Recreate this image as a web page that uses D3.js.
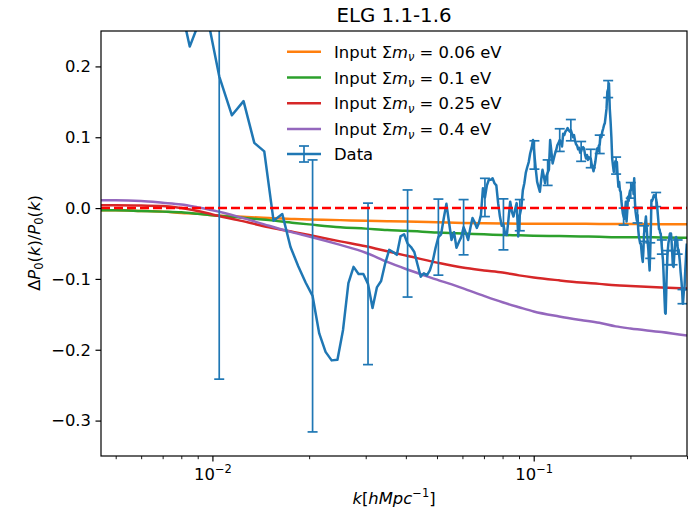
<!DOCTYPE html>
<html><head><meta charset="utf-8">
<script src="https://cdn.jsdelivr.net/npm/d3@7"></script>
<style>body{margin:0;background:#fff} text{font-family:"DejaVu Sans",sans-serif}</style>
</head><body><svg id="c" width="697" height="515"></svg>
<script>
// ---- data ----
const kStart = 0.0045, kStep = 0.001;   // k bins of the measured spectrum
const dataValues = [
 0.50, 0.45, 0.42, 0.34, 0.228, 0.285,
 0.186, 0.131, 0.151, 0.092, 0.080, -0.018, -0.0085, -0.055, -0.082, -0.105,
 -0.124, -0.177, -0.203, -0.215, -0.214, -0.172, -0.106, -0.083, -0.093, -0.093,
 -0.107, -0.141, -0.112, -0.103, -0.078, -0.059, -0.062, -0.066, -0.040, -0.037,
 -0.050, -0.055, -0.062, -0.080, -0.097, -0.092, -0.095, -0.088, -0.075, -0.056,
 -0.041, -0.037, -0.014, 0.006, -0.020, -0.045, -0.034, -0.056, -0.048, -0.041,
 -0.027, -0.035, -0.045, -0.028, -0.014, -0.020, -0.028, -0.021, -0.010, 0.028,
 0.015, 0.032, 0.040, 0.040, 0.042, 0.035, 0.032, 0.007, -0.012, -0.025,
 -0.023, -0.037, -0.038, -0.015, 0.009, -0.005, -0.012, -0.002, 0.007, -0.040,
 -0.010, 0.000, 0.025, 0.035, 0.050, 0.058, 0.065, 0.077, 0.085, 0.096,
 0.075, 0.055, 0.037, 0.030, 0.023, 0.040, 0.054, 0.045, 0.035, 0.045,
 0.050, 0.054, 0.096, 0.080, 0.063, 0.070, 0.077, 0.082, 0.089, 0.092,
 0.096, 0.092, 0.087, 0.105, 0.103, 0.108, 0.110, 0.113, 0.110, 0.108,
 0.110, 0.105, 0.100, 0.103, 0.095, 0.090, 0.088, 0.083, 0.085, 0.078,
 0.080, 0.085, 0.086, 0.084, 0.075, 0.070, 0.075, 0.068, 0.072, 0.070,
 0.070, 0.062, 0.058, 0.052, 0.058, 0.065, 0.075, 0.084, 0.080, 0.088,
 0.090, 0.103, 0.100, 0.108, 0.112, 0.117, 0.120, 0.130, 0.140, 0.164,
 0.168, 0.176, 0.140, 0.122, 0.100, 0.070, 0.060, 0.051, 0.058, 0.066,
 0.060, 0.065, 0.045, 0.030, 0.037, 0.025, 0.023, 0.010, 0.000, -0.008,
 -0.012, -0.015, -0.005, 0.009, -0.019, -0.005, 0.016, 0.010, 0.020, 0.025,
 0.025, 0.030, 0.032, 0.035, 0.020, 0.042, 0.010, -0.005, -0.012, -0.018,
 -0.010, -0.030, -0.040, -0.045, -0.050, -0.050, -0.060, -0.070, -0.076, -0.060,
 -0.036, -0.030, -0.020, -0.012, -0.025, -0.038, -0.050, -0.060, -0.075, -0.088,
 -0.060, -0.030, 0.011, 0.010, 0.012, 0.015, 0.018, 0.016, 0.018, 0.018,
 0.012, 0.008, 0.000, -0.010, -0.020, -0.030, -0.030, -0.035, -0.036, -0.045,
 -0.055, -0.065, -0.073, -0.090, -0.110, -0.130, -0.148, -0.149, -0.120, -0.090,
 -0.070, -0.059, -0.050, -0.045, -0.040, -0.036, -0.036, -0.036, -0.045, -0.060,
 -0.070, -0.082, -0.083, -0.070, -0.060, -0.050, -0.042, -0.041, -0.045, -0.050,
 -0.055, -0.058, -0.059, -0.065, -0.072, -0.080, -0.090, -0.097, -0.105, -0.115,
 -0.125, -0.135, -0.125, -0.115, -0.116, -0.100, -0.085, -0.073, -0.060, -0.050
];
// error bars drawn on every 10th bin, k = 0.0105, 0.0205, ...
const errK = [0.0105,0.0205,0.0305,0.0405,0.0505,0.0605,0.0705,0.0805,0.0905,0.1005,
  0.1105,0.1205,0.1305,0.1405,0.1505,0.1605,0.1705,0.1805,0.1905,0.2005,
  0.2105,0.2205,0.2305,0.2405,0.2505,0.2605,0.2705,0.2805,0.2905];
const errValues = [0.4275,0.192,0.114,0.0756,0.0537,0.039,0.027,0.036,0.022,0.020,
  0.018,0.016,0.015,0.014,0.013,0.013,0.012,0.012,0.012,0.011,
  0.011,0.011,0.011,0.010,0.010,0.010,0.010,0.010,0.010];

const theoryK = [0.0045,0.005,0.006,0.007,0.008,0.009,0.01,0.012,0.015,0.018,0.02,0.025,0.03,0.035,0.04,0.05,0.06,0.07,0.08,0.09,0.1,0.12,0.14,0.16,0.18,0.2,0.25,0.3];
const mnu006 = [-0.003,-0.003,-0.004,-0.005,-0.007,-0.008,-0.010,-0.012,-0.014,-0.0155,-0.016,-0.017,-0.018,-0.0185,-0.019,-0.020,-0.021,-0.0215,-0.0218,-0.022,-0.022,-0.0222,-0.0222,-0.0224,-0.0225,-0.0225,-0.0228,-0.023];
const mnu01  = [-0.003,-0.003,-0.004,-0.005,-0.006,-0.008,-0.010,-0.013,-0.017,-0.021,-0.023,-0.027,-0.029,-0.031,-0.032,-0.0345,-0.036,-0.037,-0.038,-0.0385,-0.039,-0.0395,-0.040,-0.0405,-0.041,-0.041,-0.0415,-0.042];
const mnu025 = [0.004,0.004,0.0035,0.003,0.000,-0.004,-0.009,-0.017,-0.027,-0.034,-0.038,-0.047,-0.054,-0.061,-0.067,-0.077,-0.084,-0.088,-0.091,-0.095,-0.098,-0.102,-0.105,-0.107,-0.109,-0.110,-0.112,-0.1135];
const mnu04  = [0.011,0.011,0.010,0.0075,0.005,0.001,-0.003,-0.012,-0.025,-0.035,-0.040,-0.052,-0.063,-0.076,-0.086,-0.101,-0.113,-0.124,-0.133,-0.140,-0.146,-0.153,-0.158,-0.162,-0.167,-0.170,-0.175,-0.180];

const seriesNames = ["0.06","0.1","0.25","0.4"];
const seriesColors = ["#ff7f0e","#2ca02c","#d62728","#9467bd"];
const yTicks = [-0.3,-0.2,-0.1,0.0,0.1,0.2];
const xMajorTicks = [0.01, 0.1];
const xMajorExp = ["\u22122","\u22121"];
const xMinorTicks = [0.005,0.006,0.007,0.008,0.009,0.02,0.03,0.04,0.05,0.06,0.07,0.08,0.09,0.2,0.3];

// ---- layout ----
const L = 101, R = 687, T = 31, B = 456;
const svg = d3.select("#c");
const x = d3.scaleLog().domain([0.0045, 0.3]).range([L, R]);
const y = d3.scaleLinear().domain([-0.35, 0.25]).range([B, T]);
const fs = 16.4;
const lw = 2.5;

svg.append("defs").append("clipPath").attr("id","clip")
  .append("rect").attr("x",L).attr("y",T).attr("width",R-L).attr("height",B-T);
const plot = svg.append("g").attr("clip-path","url(#clip)");

const line = d3.line().x(d=>x(d[0])).y(d=>y(d[1]));
const theories = [mnu006, mnu01, mnu025, mnu04];
theories.forEach((vals,j)=>{
  plot.append("path").datum(theoryK.map((k,i)=>[k,vals[i]]))
    .attr("d", line.curve(d3.curveMonotoneX)).attr("fill","none")
    .attr("stroke",seriesColors[j]).attr("stroke-width",lw);
});

const dataPts = dataValues.map((v,i)=>[kStart + kStep*i, v]);
const blue = "#1f77b4";
plot.append("path").attr("d", d3.line().x(d=>x(d[0])).y(d=>y(d[1]))(dataPts))
  .attr("fill","none").attr("stroke",blue).attr("stroke-width",lw).attr("stroke-linejoin","round");

const eb = plot.append("g").attr("stroke",blue).attr("stroke-width",1.7);
errK.forEach((k,i)=>{
  const idx = Math.round((k - kStart)/kStep);
  const v = dataValues[idx], e = errValues[i];
  const xx = x(k);
  eb.append("line").attr("x1",xx).attr("x2",xx).attr("y1",y(v-e)).attr("y2",y(v+e));
  eb.append("line").attr("x1",xx-5).attr("x2",xx+5).attr("y1",y(v-e)).attr("y2",y(v-e));
  eb.append("line").attr("x1",xx-5).attr("x2",xx+5).attr("y1",y(v+e)).attr("y2",y(v+e));
});

plot.append("line").attr("x1",L).attr("x2",R).attr("y1",y(0)).attr("y2",y(0))
  .attr("stroke","#ff0000").attr("stroke-width",lw).attr("stroke-dasharray","9,4");

// ---- axes ----
const yAxis = svg.append("g").attr("transform",`translate(${L},0)`)
  .call(d3.axisLeft(y).tickValues(yTicks).tickSize(5.5).tickPadding(4.5).tickFormat(d3.format(".1f")));
yAxis.select(".domain").remove();
yAxis.selectAll("text").attr("font-size",fs).attr("fill","#000").attr("font-family","DejaVu Sans");
yAxis.selectAll("line").attr("stroke","#000").attr("stroke-width",1.2);

const xAxis = svg.append("g").attr("transform",`translate(0,${B})`)
  .call(d3.axisBottom(x).tickValues(xMajorTicks).tickSize(5.5).tickPadding(3.5).tickFormat(""));
xAxis.select(".domain").remove();
xAxis.selectAll("line").attr("stroke","#000").attr("stroke-width",1.2);
xAxis.selectAll(".tick").each(function(d,i){
  const t = d3.select(this).select("text").attr("y",null).attr("dy",null)
    .attr("transform","translate(0,24)").attr("font-size",fs).attr("fill","#000").attr("text-anchor","middle");
  t.append("tspan").text("10");
  t.append("tspan").attr("font-size",fs*0.7).attr("dy",-7).text(xMajorExp[i]);
});
const xMinor = svg.append("g").attr("transform",`translate(0,${B})`)
  .call(d3.axisBottom(x).tickValues(xMinorTicks).tickSize(3.2).tickFormat(""));
xMinor.select(".domain").remove();
xMinor.selectAll("line").attr("stroke","#000").attr("stroke-width",0.9);

svg.append("rect").attr("x",L).attr("y",T).attr("width",R-L).attr("height",B-T)
  .attr("fill","none").attr("stroke","#000").attr("stroke-width",1.2);

// ---- labels ----
svg.append("text").attr("x",(L+R)/2).attr("y",22).attr("text-anchor","middle")
  .attr("font-size",19.8).text("ELG 1.1-1.6");

const xl = svg.append("text").attr("x",(L+R)/2).attr("y",504).attr("text-anchor","middle").attr("font-size",fs);
xl.append("tspan").attr("font-style","italic").text("k");
xl.append("tspan").text("[");
xl.append("tspan").attr("font-style","italic").text("hMpc");
xl.append("tspan").attr("font-size",fs*0.7).attr("dy",-7).text("\u22121");
xl.append("tspan").attr("dy",7).text("]");

const yl = svg.append("text").attr("transform","translate(39.5,243) rotate(-90)").attr("text-anchor","middle").attr("font-size",fs);
yl.append("tspan").text("\u0394");
yl.append("tspan").attr("font-style","italic").text("P");
yl.append("tspan").attr("font-size",fs*0.7).attr("dy",3.5).text("0");
yl.append("tspan").attr("dy",-3.5).text("(");
yl.append("tspan").attr("font-style","italic").text("k");
yl.append("tspan").text(")/");
yl.append("tspan").attr("font-style","italic").text("P");
yl.append("tspan").attr("font-size",fs*0.7).attr("dy",3.5).text("0");
yl.append("tspan").attr("dy",-3.5).text("(");
yl.append("tspan").attr("font-style","italic").text("k");
yl.append("tspan").text(")");

// ---- legend ----
const lg = svg.append("g");
const rowY = [51.7, 77.5, 103.3, 129, 154];
seriesNames.forEach((n,j)=>{
  lg.append("line").attr("x1",287).attr("x2",321).attr("y1",rowY[j]).attr("y2",rowY[j])
    .attr("stroke",seriesColors[j]).attr("stroke-width",lw);
  const t = lg.append("text").attr("x",334).attr("y",rowY[j]+6).attr("font-size",fs);
  t.append("tspan").text("Input \u03a3");
  t.append("tspan").attr("font-style","italic").text("m");
  t.append("tspan").attr("font-style","italic").attr("font-size",fs*0.7).attr("dy",3.5).text("\u03bd");
  t.append("tspan").attr("dy",-3.5).text(" = " + n + " eV");
});
{
  const yy = rowY[4];
  lg.append("line").attr("x1",287).attr("x2",321).attr("y1",yy).attr("y2",yy).attr("stroke",blue).attr("stroke-width",lw);
  const g = lg.append("g").attr("stroke",blue).attr("stroke-width",1.7);
  g.append("line").attr("x1",304).attr("x2",304).attr("y1",yy-8).attr("y2",yy+8);
  g.append("line").attr("x1",299).attr("x2",309).attr("y1",yy-8).attr("y2",yy-8);
  g.append("line").attr("x1",299).attr("x2",309).attr("y1",yy+8).attr("y2",yy+8);
  lg.append("text").attr("x",334).attr("y",yy+6).attr("font-size",fs).text("Data");
}
</script></body></html>
